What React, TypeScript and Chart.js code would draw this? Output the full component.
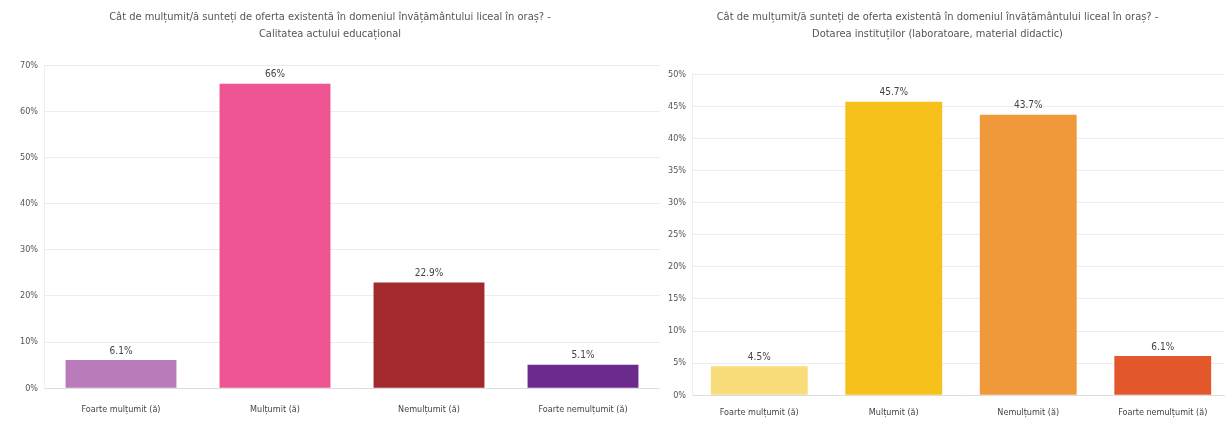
import React, { useEffect, useRef } from "react";
import { Chart, registerables } from "chart.js";

Chart.register(...registerables);

const categories = ["Foarte mulțumit (ă)", "Mulțumit (ă)", "Nemulțumit (ă)", "Foarte nemulțumit (ă)"];

const titleLeft = [
  "Cât de mulțumit/ă sunteți de oferta existentă în domeniul învățământului liceal în oraș? -",
  "Calitatea actului educațional",
];
const valuesLeft = [6.1, 66, 22.9, 5.1];
const colorsLeft = ["#b97ab9", "#ef5592", "#a2292e", "#6b2a8c"];
const maxLeft = 70;
const stepLeft = 10;

const titleRight = [
  "Cât de mulțumit/ă sunteți de oferta existentă în domeniul învățământului liceal în oraș? -",
  "Dotarea instituților (laboratoare, material didactic)",
];
const valuesRight = [4.5, 45.7, 43.7, 6.1];
const colorsRight = ["#f8dd7a", "#f5c11a", "#f0993b", "#e2582b"];
const maxRight = 50;
const stepRight = 5;

const FONT = "'Liberation Sans Narrow', 'DejaVu Sans Condensed', 'Liberation Sans', sans-serif";

const valueLabels = {
  id: "valueLabels",
  afterDatasetsDraw(chart: any) {
    const ctx = chart.ctx;
    const meta = chart.getDatasetMeta(0);
    const data = chart.data.datasets[0].data;
    ctx.save();
    ctx.font = `10px ${FONT}`;
    ctx.fillStyle = "#444";
    ctx.textAlign = "center";
    ctx.textBaseline = "bottom";
    meta.data.forEach((bar: any, i: number) => {
      const v = data[i];
      const txt = (Number.isInteger(v) ? String(v) : v.toFixed(1)) + "%";
      ctx.fillText(txt, bar.x, bar.y - 4);
    });
    ctx.restore();
  },
};

function BarChart(props: {
  title: string[];
  values: number[];
  colors: string[];
  max: number;
  step: number;
  axisWidth: number;
  padTop: number;
  tickPad: number;
}) {
  const ref = useRef<HTMLCanvasElement>(null);
  useEffect(() => {
    if (!ref.current) return;
    const chart = new Chart(ref.current, {
      type: "bar",
      data: {
        labels: categories,
        datasets: [
          {
            data: props.values,
            backgroundColor: props.colors,
            categoryPercentage: 0.72,
            barPercentage: 1,
          },
        ],
      },
      options: {
        animation: false,
        responsive: true,
        maintainAspectRatio: false,
        layout: { padding: { top: 4, right: 0, bottom: 0, left: 0 } },
        plugins: {
          legend: { display: false },
          tooltip: { enabled: false },
          title: {
            display: true,
            text: props.title,
            color: "#555",
            font: { family: FONT, size: 11, weight: "normal", lineHeight: 1.6 },
            padding: { top: 4, bottom: props.padTop },
          },
        },
        scales: {
          x: {
            grid: { display: false },
            border: { color: "#ddd" },
            ticks: { color: "#444", font: { family: FONT, size: 9 }, padding: props.tickPad },
          },
          y: {
            min: 0,
            max: props.max,
            grid: { color: "#ececec", drawTicks: false },
            border: { color: "#eee" },
            ticks: {
              stepSize: props.step,
              color: "#555",
              padding: 6,
              font: { family: FONT, size: 9 },
              callback: (v: any) => v + "%",
            },
            afterFit: (scale: any) => {
              scale.width = props.axisWidth;
            },
          },
        },
      },
      plugins: [valueLabels],
    });
    return () => chart.destroy();
  }, []);
  return <canvas ref={ref} />;
}

export default function App() {
  return (
    <div style={{ position: "absolute", left: 0, top: 0, width: 1225, height: 422, overflow: "hidden", background: "#fff" }}>
      <div style={{ position: "absolute", left: 0, top: 0, width: 660, height: 423 }}>
        <BarChart
          title={titleLeft}
          values={valuesLeft}
          colors={colorsLeft}
          max={maxLeft}
          step={stepLeft}
          axisWidth={44}
          padTop={22}
          tickPad={8}
        />
      </div>
      <div style={{ position: "absolute", left: 645, top: 0, width: 585, height: 422 }}>
        <BarChart
          title={titleRight}
          values={valuesRight}
          colors={colorsRight}
          max={maxRight}
          step={stepRight}
          axisWidth={47}
          padTop={31}
          tickPad={4}
        />
      </div>
    </div>
  );
}
